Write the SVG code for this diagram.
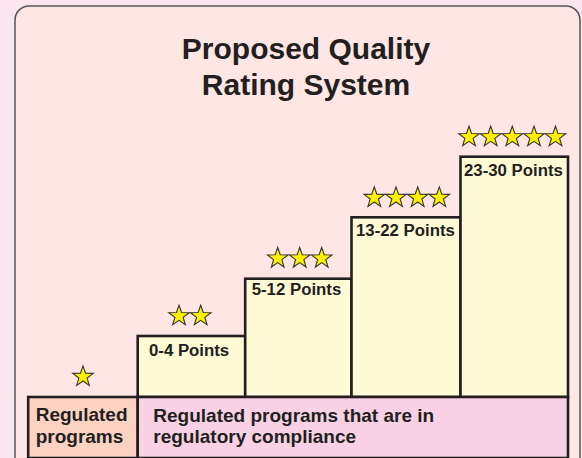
<svg xmlns="http://www.w3.org/2000/svg" xmlns:xlink="http://www.w3.org/1999/xlink" width="582" height="458" viewBox="0 0 582 458">
<defs>
<style>
.t{font-family:"Liberation Sans",Arial,sans-serif;font-weight:bold;fill:#231f20}
.title{font-size:30px}
.pts{font-size:16.8px}
.lbl{font-size:19px}
.step{fill:#fffad6;stroke:#231f20;stroke-width:2.6}
.star{fill:#fff200;stroke:#333333;stroke-width:1.1;stroke-linejoin:miter}
</style>
<path id="star" class="star" d="M0,-10.8 L2.54,-3.5 L10.27,-3.34 L4.11,1.34 L6.35,8.74 L0,4.32 L-6.35,8.74 L-4.11,1.34 L-10.27,-3.34 L-2.54,-3.5 Z"/>
</defs>
<rect x="0" y="0" width="582" height="458" fill="#fbe6ef"/>
<g id="frame">
<rect x="15" y="6" width="565" height="470" rx="14" ry="14" fill="#fde6e4" stroke="#555555" stroke-width="1.5"/>
</g>
<g id="title">
<text class="t title" x="306" y="59" text-anchor="middle">Proposed Quality</text>
<text class="t title" x="306" y="95" text-anchor="middle">Rating System</text>
</g>
<g id="step-0-4">
<rect class="step" x="137.7" y="336" width="107.5" height="61"/>
<text class="t pts" x="149" y="356">0-4 Points</text>
<use xlink:href="#star" x="179" y="316"/>
<use xlink:href="#star" x="200.7" y="316"/>
</g>
<g id="step-5-12">
<rect class="step" x="245.2" y="278.7" width="106.3" height="118.3"/>
<text class="t pts" x="251.7" y="295">5-12 Points</text>
<use xlink:href="#star" x="277.7" y="258.3"/>
<use xlink:href="#star" x="299.7" y="258.3"/>
<use xlink:href="#star" x="321.7" y="258.3"/>
</g>
<g id="step-13-22">
<rect class="step" x="351.5" y="217.3" width="109" height="179.7"/>
<text class="t pts" x="356" y="236">13-22 Points</text>
<use xlink:href="#star" x="374.3" y="197.7"/>
<use xlink:href="#star" x="396" y="197.7"/>
<use xlink:href="#star" x="417.7" y="197.7"/>
<use xlink:href="#star" x="439.3" y="197.7"/>
</g>
<g id="step-23-30">
<rect class="step" x="460.5" y="156.7" width="107.5" height="240.3"/>
<text class="t pts" x="464" y="175.7">23-30 Points</text>
<use xlink:href="#star" x="469" y="137"/>
<use xlink:href="#star" x="490.7" y="137"/>
<use xlink:href="#star" x="512.3" y="137"/>
<use xlink:href="#star" x="534" y="137"/>
<use xlink:href="#star" x="555.5" y="137"/>
</g>
<g id="regulated">
<rect x="28.2" y="397" width="109.5" height="61" fill="#fcd3c3" stroke="#231f20" stroke-width="2.6"/>
<text class="t lbl" x="35.7" y="421">Regulated</text>
<text class="t lbl" x="35.7" y="443">programs</text>
<use xlink:href="#star" x="83" y="376.7"/>
</g>
<g id="compliance">
<rect x="137.7" y="397" width="430.3" height="61" fill="#f8d2e4" stroke="#231f20" stroke-width="2.6"/>
<text class="t lbl" x="153.3" y="421.5">Regulated programs that are in</text>
<text class="t lbl" x="153.3" y="443">regulatory compliance</text>
</g>
</svg>
